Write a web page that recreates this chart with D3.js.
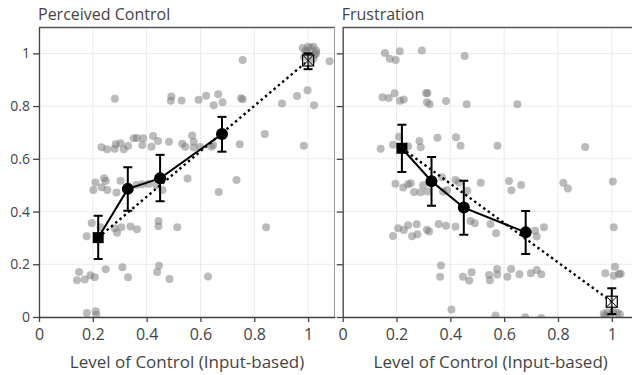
<!DOCTYPE html>
<html>
<head>
<meta charset="utf-8">
<script src="https://cdn.jsdelivr.net/npm/d3@7"></script>
<style>
  body { margin: 0; background: #fff; font-family: "Open Sans", sans-serif; }
</style>
</head>
<body>
<svg id="chart" width="632" height="375"></svg>
<script>
// condition levels (x) and which marker each one gets
const levels = [0.22, 0.33, 0.45, 0.68, 1.0];
const shapes = ['square', 'circle', 'circle', 'circle', 'xbox'];
const xTicks = [0, 0.2, 0.4, 0.6, 0.8, 1];
const yTicks = [0, 0.2, 0.4, 0.6, 0.8, 1];

const perceivedMean = [0.301, 0.486, 0.526, 0.694, 0.973];
const perceivedLow  = [0.220, 0.403, 0.439, 0.627, 0.940];
const perceivedHigh = [0.384, 0.568, 0.615, 0.759, 1.000];

const frustrationMean = [0.640, 0.515, 0.415, 0.321, 0.058];
const frustrationLow  = [0.550, 0.422, 0.312, 0.239, 0.011];
const frustrationHigh = [0.729, 0.607, 0.517, 0.402, 0.109];

// raw (jittered) responses
const perceivedPoints = [
  [0.282,0.828],[0.492,0.836],[0.490,0.820],[0.530,0.821],[0.593,0.824],[0.621,0.839],[0.666,0.845],[0.649,0.803],
  [0.682,0.815],[0.751,0.830],[0.757,0.826],[0.757,0.975],[0.903,0.810],[0.959,0.838],[0.998,0.860],[1.022,0.803],[1.080,0.970],
  [0.980,1.020],[0.990,1.010],[1.000,1.025],[1.010,1.020],[1.020,1.025],[1.030,1.010],[1.025,0.995],[0.985,0.985],
  [1.000,0.990],[1.020,0.980],[1.030,1.000],[0.995,1.005],[1.010,0.970],
  [0.177,0.306],[0.196,0.357],[0.232,0.644],[0.253,0.636],[0.281,0.638],[0.285,0.655],[0.303,0.659],[0.315,0.636],
  [0.331,0.649],[0.352,0.678],[0.364,0.679],[0.387,0.678],[0.384,0.652],[0.424,0.687],[0.418,0.646],[0.442,0.668],
  [0.483,0.665],[0.532,0.657],[0.544,0.646],[0.569,0.688],[0.575,0.665],[0.575,0.643],[0.599,0.645],[0.641,0.646],
  [0.647,0.652],[0.746,0.655],[0.839,0.694],[0.984,0.650],
  [0.210,0.510],[0.202,0.482],[0.233,0.492],[0.242,0.526],[0.248,0.516],[0.254,0.482],[0.288,0.472],[0.303,0.517],
  [0.362,0.501],[0.384,0.504],[0.408,0.505],[0.436,0.500],[0.459,0.482],[0.552,0.525],[0.668,0.474],[0.734,0.520],
  [0.229,0.340],[0.281,0.337],[0.290,0.320],[0.306,0.340],[0.340,0.343],[0.364,0.333],[0.444,0.364],[0.444,0.344],
  [0.514,0.340],[0.844,0.340],
  [0.149,0.171],[0.141,0.139],[0.170,0.142],[0.191,0.158],[0.207,0.151],[0.248,0.181],[0.310,0.189],[0.331,0.151],
  [0.439,0.171],[0.446,0.194],[0.485,0.144],[0.628,0.154],
  [0.178,0.015],[0.211,0.022],[0.213,0.009]
];

const frustrationPoints = [
  [0.157,1.001],[0.175,0.980],[0.197,0.975],[0.212,1.008],[0.294,1.011],[0.453,0.990],
  [0.148,0.834],[0.171,0.831],[0.193,0.849],[0.213,0.820],[0.227,0.825],[0.310,0.849],[0.315,0.850],[0.313,0.815],
  [0.323,0.807],[0.384,0.819],[0.461,0.807],[0.649,0.807],
  [0.141,0.638],[0.187,0.653],[0.209,0.684],[0.243,0.648],[0.285,0.668],[0.290,0.644],[0.352,0.680],[0.421,0.682],
  [0.438,0.650],[0.575,0.650],[0.901,0.645],
  [0.196,0.505],[0.225,0.491],[0.243,0.504],[0.253,0.507],[0.265,0.474],[0.289,0.473],[0.299,0.500],[0.315,0.476],
  [0.373,0.476],[0.388,0.481],[0.369,0.530],[0.419,0.520],[0.432,0.510],[0.463,0.479],[0.513,0.509],[0.618,0.516],
  [0.627,0.481],[0.663,0.501],[0.820,0.509],[0.837,0.487],[1.004,0.514],
  [0.187,0.307],[0.206,0.337],[0.227,0.330],[0.243,0.348],[0.258,0.306],[0.275,0.352],[0.278,0.314],[0.313,0.331],
  [0.321,0.324],[0.357,0.353],[0.384,0.346],[0.419,0.342],[0.475,0.364],[0.491,0.356],[0.549,0.353],[0.570,0.318],
  [0.715,0.327],[0.721,0.305],[0.748,0.340],[1.007,0.340],
  [0.365,0.195],[0.362,0.153],[0.447,0.153],[0.470,0.138],[0.479,0.170],[0.544,0.159],[0.547,0.139],[0.574,0.182],
  [0.574,0.161],[0.612,0.153],[0.626,0.182],[0.657,0.162],[0.699,0.166],[0.721,0.178],[0.738,0.162],
  [0.976,0.166],[1.012,0.191],[1.007,0.156],[1.027,0.163],[1.033,0.164],
  [0.404,0.028],[0.568,0.006],[0.678,-0.001],[0.738,-0.004],
  [0.970,0.012],[0.985,0.018],[1.005,0.020],[1.020,0.015],[0.995,0.008],[0.975,0.004],[1.030,0.010]
];

const panels = [
  { id: 'pc', title: 'Perceived Control', left: 39, points: perceivedPoints,
    mean: perceivedMean, low: perceivedLow, high: perceivedHigh, yLabels: true },
  { id: 'fr', title: 'Frustration', left: 342.7, points: frustrationPoints,
    mean: frustrationMean, low: frustrationLow, high: frustrationHigh, yLabels: false }
];

const svg = d3.select('#chart');
const plotTop = 27, plotBottom = 317, plotW = 296;
const y = d3.scaleLinear().domain([0, 1.1]).range([plotBottom, plotTop]);

panels.forEach(p => {
  const x = d3.scaleLinear().domain([0, 1.1]).range([p.left, p.left + plotW]);
  const g = svg.append('g');

  svg.append('clipPath').attr('id', 'clip-' + p.id)
    .append('rect')
    .attr('x', p.left).attr('y', plotTop)
    .attr('width', plotW).attr('height', plotBottom - plotTop);

  // grid
  g.selectAll('line.gx').data(xTicks).enter().append('line')
    .attr('x1', d => x(d)).attr('x2', d => x(d))
    .attr('y1', plotTop).attr('y2', plotBottom)
    .attr('stroke', '#ebebeb').attr('stroke-width', 1);
  g.selectAll('line.gy').data(yTicks).enter().append('line')
    .attr('x1', p.left).attr('x2', p.left + plotW)
    .attr('y1', d => y(d)).attr('y2', d => y(d))
    .attr('stroke', '#ebebeb').attr('stroke-width', 1);

  const plot = g.append('g').attr('clip-path', 'url(#clip-' + p.id + ')');

  // raw points
  plot.selectAll('circle.raw').data(p.points).enter().append('circle')
    .attr('class', 'raw')
    .attr('cx', d => x(d[0])).attr('cy', d => y(d[1]))
    .attr('r', 4)
    .attr('fill', '#777').attr('fill-opacity', 0.5);

  // dotted line between the two reference conditions
  const refIdx = [0, levels.length - 1];
  plot.append('path')
    .datum(refIdx)
    .attr('d', d3.line().x(i => x(levels[i])).y(i => y(p.mean[i])))
    .attr('fill', 'none').attr('stroke', '#000')
    .attr('stroke-width', 2.4).attr('stroke-dasharray', '2.4,3.2');

  // solid line through input-based conditions
  const inputIdx = [0, 1, 2, 3];
  plot.append('path')
    .datum(inputIdx)
    .attr('d', d3.line().x(i => x(levels[i])).y(i => y(p.mean[i])))
    .attr('fill', 'none').attr('stroke', '#000').attr('stroke-width', 2);

  // error bars
  const idx = d3.range(levels.length);
  const eb = plot.selectAll('g.eb').data(idx).enter().append('g');
  eb.append('line')
    .attr('x1', i => x(levels[i])).attr('x2', i => x(levels[i]))
    .attr('y1', i => y(p.low[i])).attr('y2', i => y(p.high[i]))
    .attr('stroke', '#000').attr('stroke-width', 2);
  eb.append('line')
    .attr('x1', i => x(levels[i]) - 4.5).attr('x2', i => x(levels[i]) + 4.5)
    .attr('y1', i => y(p.low[i])).attr('y2', i => y(p.low[i]))
    .attr('stroke', '#000').attr('stroke-width', 2);
  eb.append('line')
    .attr('x1', i => x(levels[i]) - 4.5).attr('x2', i => x(levels[i]) + 4.5)
    .attr('y1', i => y(p.high[i])).attr('y2', i => y(p.high[i]))
    .attr('stroke', '#000').attr('stroke-width', 2);

  // markers
  idx.forEach(i => {
    const cx = x(levels[i]), cy = y(p.mean[i]);
    if (shapes[i] === 'circle') {
      plot.append('circle').attr('cx', cx).attr('cy', cy).attr('r', 6).attr('fill', '#000');
    } else if (shapes[i] === 'square') {
      plot.append('rect').attr('x', cx - 5.5).attr('y', cy - 5.5)
        .attr('width', 11).attr('height', 11).attr('fill', '#000');
    } else {
      const s = 5.5;
      plot.append('rect').attr('x', cx - s).attr('y', cy - s)
        .attr('width', 2 * s).attr('height', 2 * s)
        .attr('fill', 'rgba(255,255,255,0.3)').attr('stroke', '#000').attr('stroke-width', 1.2);
      plot.append('path')
        .attr('d', `M${cx - s},${cy - s}L${cx + s},${cy + s}M${cx + s},${cy - s}L${cx - s},${cy + s}`)
        .attr('stroke', '#000').attr('stroke-width', 1);
    }
  });

  // frame: top and right edges
  g.append('line').attr('x1', p.left).attr('x2', p.left + plotW)
    .attr('y1', plotTop + 0.5).attr('y2', plotTop + 0.5)
    .attr('stroke', '#555').attr('stroke-width', 1.3);
  g.append('line').attr('x1', p.left + plotW - 0.5).attr('x2', p.left + plotW - 0.5)
    .attr('y1', plotTop).attr('y2', plotBottom)
    .attr('stroke', '#999').attr('stroke-width', 1);

  // axes
  const xAxis = g.append('g').attr('transform', `translate(0,${plotBottom})`)
    .call(d3.axisBottom(x).tickValues(xTicks).tickFormat(d3.format('~g')).tickSize(5).tickSizeOuter(0));
  xAxis.select('.domain').attr('stroke', '#444').attr('stroke-width', 1.3);
  xAxis.selectAll('.tick line').attr('stroke', '#444').attr('stroke-width', 1.3);
  xAxis.selectAll('.tick text')
    .attr('font-family', '"Open Sans", sans-serif').attr('font-size', 16)
    .attr('fill', '#444').attr('dy', '0.95em');

  const yAxis = g.append('g').attr('transform', `translate(${p.left},0)`)
    .call(d3.axisLeft(y).tickValues(yTicks)
      .tickFormat(p.yLabels ? d3.format('~g') : () => '')
      .tickSize(6).tickSizeOuter(0));
  yAxis.select('.domain').attr('stroke', '#444').attr('stroke-width', 1.3);
  yAxis.selectAll('.tick line').attr('stroke', '#444').attr('stroke-width', 1.3);
  yAxis.selectAll('.tick text')
    .attr('font-family', '"Open Sans", sans-serif').attr('font-size', 14)
    .attr('fill', '#444').attr('x', -9);

  // titles
  g.append('text').attr('x', p.left - 1).attr('y', 20)
    .attr('font-size', 16).attr('fill', '#444').text(p.title);
  g.append('text').attr('x', x(0.55)).attr('y', 368)
    .attr('text-anchor', 'middle').attr('font-size', 17).attr('fill', '#444')
    .text('Level of Control (Input-based)');
});
</script>
</body>
</html>
